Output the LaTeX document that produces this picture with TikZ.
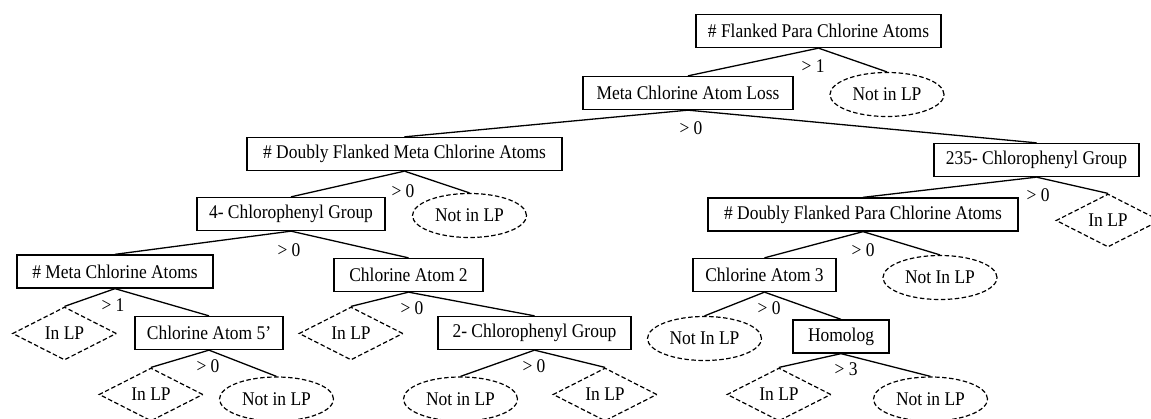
\documentclass[tikz,border=0pt]{standalone}
\usepackage{fontspec}
\setmainfont[FakeStretch=0.9]{Liberation Serif}
\usetikzlibrary{shapes.geometric}

\tikzset{
  tree/.style={x=1pt, y=-1pt, font=\fontsize{19.4}{23}\selectfont},
  testbox/.style={draw, line width=1.3pt, inner sep=0pt, minimum height=33pt},
  notlp/.style={draw, ellipse, dashed, dash pattern=on 4.5pt off 2.5pt, line width=1.2pt,
                inner sep=0pt, minimum width=114pt, minimum height=44pt},
  inlp/.style={draw, diamond, dashed, dash pattern=on 4.5pt off 2.5pt, line width=1.2pt,
               inner sep=0pt, minimum width=104pt, minimum height=53pt},
  branch/.style={line width=1.3pt},
  cond/.style={inner sep=0pt}
}

\begin{document}
\begin{tikzpicture}[tree]
\useasboundingbox (0,0) rectangle (1151,419);
\clip (0,0) rectangle (1151,419);

% decision nodes
\node[testbox, minimum width=245pt] (root) at (818.5,31)  {\# Flanked Para Chlorine Atoms};
\node[testbox, minimum width=210pt] (loss) at (688,93)    {Meta Chlorine Atom Loss};
\node[testbox, minimum width=315pt] (dfm)  at (404.5,154) {\# Doubly Flanked Meta Chlorine Atoms};
\node[testbox, minimum width=188pt] (c4)   at (291,214)   {4- Chlorophenyl Group};
\node[testbox, minimum width=205pt] (c235) at (1036.5,160){235- Chlorophenyl Group};
\node[testbox, minimum width=310pt] (dfp)  at (863,214.5) {\# Doubly Flanked Para Chlorine Atoms};
\node[testbox, minimum width=196pt] (mca)  at (115,271.5) {\# Meta Chlorine Atoms};
\node[testbox, minimum width=149pt] (cl2)  at (408.5,275) {Chlorine Atom 2};
\node[testbox, minimum width=143pt] (cl3)  at (764.5,275) {Chlorine Atom 3};
\node[testbox, minimum width=148pt] (cl5)  at (209,333)   {Chlorine Atom 5’};
\node[testbox, minimum width=193pt] (c2)   at (534.5,333) {2- Chlorophenyl Group};
\node[testbox, minimum width=96pt]  (hom)  at (841,336.5) {Homolog};

% leaves: not in LP
\node[notlp] (n1) at (887,94.5)   {Not in LP};
\node[notlp] (n2) at (469.5,215.5){Not in LP};
\node[notlp] (n3) at (940,277.5)  {Not In LP};
\node[notlp] (n4) at (704.5,338.5){Not In LP};
\node[notlp] (n5) at (930.5,399)  {Not in LP};
\node[notlp] (n6) at (276.5,399)  {Not in LP};
\node[notlp] (n7) at (460.5,399)  {Not in LP};

% leaves: in LP
\node[inlp] (d1) at (1108,220.5) {In LP};
\node[inlp] (d2) at (64.5,333.5) {In LP};
\node[inlp] (d3) at (351,333.5)  {In LP};
\node[inlp] (d4) at (151,394.5)  {In LP};
\node[inlp] (d5) at (605,394.5)  {In LP};
\node[inlp] (d6) at (779,394.5)  {In LP};

% branches
\draw[branch] (root.south) -- (loss.north);
\draw[branch] (root.south) -- (n1.north);
\draw[branch] (loss.south) -- (dfm.north);
\draw[branch] (loss.south) -- (c235.north);
\draw[branch] (dfm.south) -- (c4.north);
\draw[branch] (dfm.south) -- (n2.north);
\draw[branch] (c4.south) -- (mca.north);
\draw[branch] (c4.south) -- (cl2.north);
\draw[branch] (mca.south) -- (d2.north);
\draw[branch] (mca.south) -- (cl5.north);
\draw[branch] (cl5.south) -- (d4.north);
\draw[branch] (cl5.south) -- (n6.north);
\draw[branch] (cl2.south) -- (d3.north);
\draw[branch] (cl2.south) -- (c2.north);
\draw[branch] (c2.south) -- (n7.north);
\draw[branch] (c2.south) -- (d5.north);
\draw[branch] (c235.south) -- (dfp.north);
\draw[branch] (c235.south) -- (d1.north);
\draw[branch] (dfp.south) -- (cl3.north);
\draw[branch] (dfp.south) -- (n3.north);
\draw[branch] (cl3.south) -- (n4.north);
\draw[branch] (cl3.south) -- (hom.north);
\draw[branch] (hom.south) -- (d6.north);
\draw[branch] (hom.south) -- (n5.north);

% split conditions
\node[cond] (t-root) at (813,66)   {> 1};
\node[cond] (t-loss) at (691,128)  {> 0};
\node[cond] (t-dfm)  at (403,191)  {> 0};
\node[cond] (t-c4)   at (289,250)  {> 0};
\node[cond] (t-c235) at (1038,195) {> 0};
\node[cond] (t-dfp)  at (863,250)  {> 0};
\node[cond] (t-mca)  at (113,305)  {> 1};
\node[cond] (t-cl2)  at (412,308)  {> 0};
\node[cond] (t-cl3)  at (769,308)  {> 0};
\node[cond] (t-cl5)  at (208,366)  {> 0};
\node[cond] (t-c2)   at (534,366)  {> 0};
\node[cond] (t-hom)  at (846,369)  {> 3};
\end{tikzpicture}
\end{document}
